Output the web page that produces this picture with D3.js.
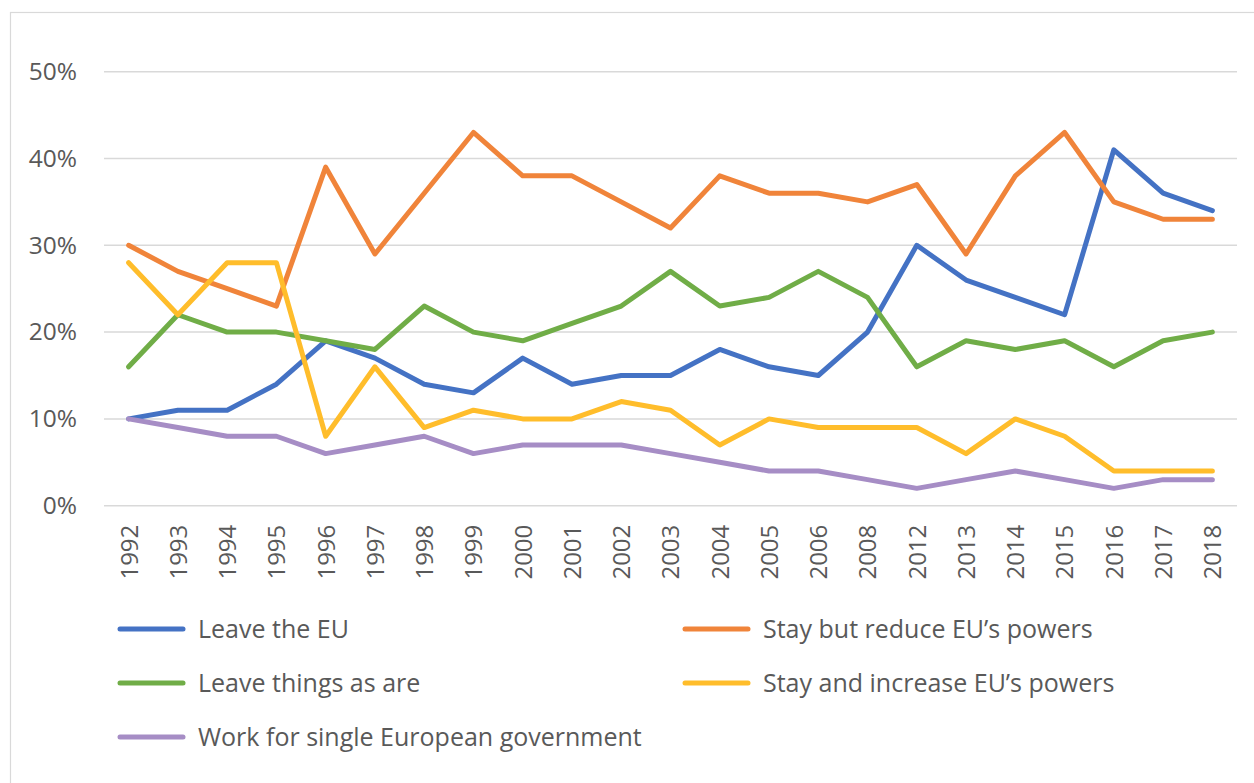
<!DOCTYPE html>
<html><head><meta charset="utf-8">
<script src="https://cdn.jsdelivr.net/npm/d3@7/dist/d3.min.js"></script>
<style>
html,body{margin:0;padding:0;background:#fff;}
svg{display:block;font-family:"Open Sans",sans-serif;}
</style></head>
<body><svg id="c" width="1254" height="783"></svg>
<script>
const years = ["1992","1993","1994","1995","1996","1997","1998","1999","2000","2001","2002","2003","2004","2005","2006","2008","2012","2013","2014","2015","2016","2017","2018"];
const leaveEU      = [10,11,11,14,19,17,14,13,17,14,15,15,18,16,15,20,30,26,24,22,41,36,34];
const stayReduce   = [30,27,25,23,39,29,36,43,38,38,35,32,38,36,36,35,37,29,38,43,35,33,33];
const leaveAsAre   = [16,22,20,20,19,18,23,20,19,21,23,27,23,24,27,24,16,19,18,19,16,19,20];
const stayIncrease = [28,22,28,28,8,16,9,11,10,10,12,11,7,10,9,9,9,6,10,8,4,4,4];
const singleGov    = [10,9,8,8,6,7,8,6,7,7,7,6,5,4,4,3,2,3,4,3,2,3,3];
const yTicks = [0,10,20,30,40,50];

const series = [
  {name:"Leave the EU", values:leaveEU, color:"#4472C4"},
  {name:"Stay but reduce EU\u2019s powers", values:stayReduce, color:"#F0843A"},
  {name:"Leave things as are", values:leaveAsAre, color:"#70AD47"},
  {name:"Stay and increase EU\u2019s powers", values:stayIncrease, color:"#FFBD2B"},
  {name:"Work for single European government", values:singleGov, color:"#A68DC5"}
];

const svg = d3.select("#c");
svg.append("rect").attr("x",10.5).attr("y",12.5).attr("width",1260).attr("height",800)
  .attr("fill","none").attr("stroke","#D9D9D9").attr("stroke-width",1.2);

const x = d3.scalePoint().domain(years).range([104,1237]).padding(0.5);
const y = d3.scaleLinear().domain([0,50]).range([505.7,71.7]);

// gridlines
svg.append("g").selectAll("line").data(yTicks).join("line")
  .attr("x1",104).attr("x2",1237).attr("y1",d=>y(d)).attr("y2",d=>y(d))
  .attr("stroke","#D9D9D9").attr("stroke-width",1.5);

// y axis labels
const yAxis = svg.append("g").attr("transform","translate(104,0)")
  .call(d3.axisLeft(y).tickValues(yTicks).tickFormat(d=>d+"%").tickSize(0).tickPadding(27));
yAxis.select(".domain").remove();
yAxis.selectAll("text").attr("font-size",24.5).attr("fill","#595959").attr("font-family","Open Sans");

// x axis labels
const xAxis = svg.append("g").attr("transform","translate(0,505.7)")
  .call(d3.axisBottom(x).tickSize(0).tickPadding(0));
xAxis.select(".domain").remove();
xAxis.selectAll("text")
  .attr("font-size",24).attr("fill","#595959").attr("font-family","Open Sans")
  .attr("transform","rotate(-90)")
  .attr("text-anchor","end").attr("x",-19).attr("y",0).attr("dy","0.35em");

// lines
const line = d3.line().x((d,i)=>x(years[i])).y(d=>y(d));
svg.append("g").selectAll("path").data(series).join("path")
  .attr("d",d=>line(d.values)).attr("fill","none").attr("stroke",d=>d.color)
  .attr("stroke-width",5).attr("stroke-linejoin","round").attr("stroke-linecap","round");

// legend
const legPos = [[118,629],[683,629],[118,683],[683,683],[118,737]];
const leg = svg.append("g").selectAll("g").data(series).join("g")
  .attr("transform",(d,i)=>`translate(${legPos[i][0]},${legPos[i][1]})`);
leg.append("line").attr("x1",2).attr("x2",65).attr("stroke",d=>d.color)
  .attr("stroke-width",5).attr("stroke-linecap","round");
leg.append("text").attr("x",80).attr("dy","0.35em").text(d=>d.name)
  .attr("font-size",25).attr("fill","#595959");
</script></body></html>
